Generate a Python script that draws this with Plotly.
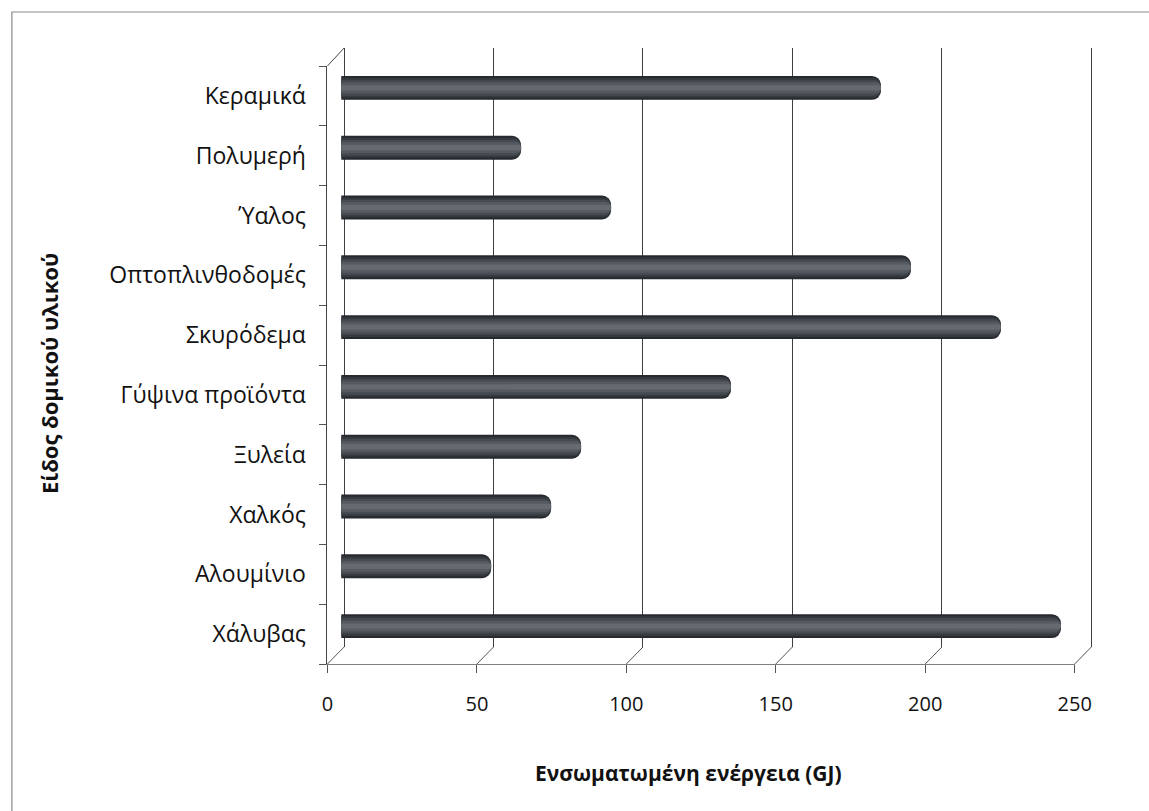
import plotly.graph_objects as go

# Embodied energy per building material (GJ), listed bottom to top
materials = ["Χάλυβας", "Αλουμίνιο", "Χαλκός", "Ξυλεία", "Γύψινα προϊόντα",
             "Σκυρόδεμα", "Οπτοπλινθοδομές", "Ύαλος", "Πολυμερή", "Κεραμικά"]
energy_gj = [240, 50, 70, 80, 130, 220, 190, 90, 60, 180]
value_ticks = [0, 50, 100, 150, 200, 250]
value_tick_text = ["0", "50", "100", "150", "200", "250"]

W, H = 1149, 811
FONT = "Open Sans"


def fx(px):
    return px / W


def fy(py):
    return 1 - py / H


# pseudo-3D geometry (pixels): front floor plane, bar plane, back wall
FRONT_X0, BACK_X0, BAR_X0 = 328, 345, 342
PX_PER_UNIT = 3.05
BAR_PX_PER_UNIT = 3.06
FRONT_TOP, FRONT_BOTTOM = 66, 664
BACK_TOP, BACK_BOTTOM = 48, 647
BAR_TOP, BAR_BOTTOM = 58, 656
VMAX = 250
PAD = 1  # small range padding so the edge gridlines are drawn

fig = go.Figure()

# back wall subplot (gridlines only)
fig.add_trace(go.Scatter(x=[0], y=[0], mode="markers", marker=dict(opacity=0),
                         hoverinfo="skip", showlegend=False, xaxis="x", yaxis="y"))

# cylinder-like bars: dark body shading to a lighter core
for width, color, radius in [(0.40, "#26292e", 9), (0.33, "#363a40", 8),
                             (0.26, "#464a51", 7), (0.18, "#555960", 5),
                             (0.09, "#656970", 3)]:
    fig.add_trace(go.Bar(
        x=energy_gj, y=materials, orientation="h", width=width,
        marker=dict(color=color, line=dict(width=0), cornerradius=radius),
        hoverinfo="x+y", showlegend=False, xaxis="x2", yaxis="y2",
    ))

# front axes carry the category and value labels
fig.add_trace(go.Scatter(x=energy_gj, y=materials, mode="markers", marker=dict(opacity=0),
                         hoverinfo="skip", showlegend=False, xaxis="x3", yaxis="y3"))

shapes = []
# floor depth strokes joining the front ticks to the back wall gridlines
for v in value_ticks:
    shapes.append(dict(type="line", xref="paper", yref="paper",
                       x0=fx(FRONT_X0 + v * PX_PER_UNIT), y0=fy(FRONT_BOTTOM),
                       x1=fx(BACK_X0 + v * PX_PER_UNIT), y1=fy(BACK_BOTTOM),
                       line=dict(color="#555555", width=1)))
# top edge of the side wall
shapes.append(dict(type="line", xref="paper", yref="paper",
                   x0=fx(FRONT_X0), y0=fy(FRONT_TOP), x1=fx(BACK_X0), y1=fy(BACK_TOP),
                   line=dict(color="#444444", width=1)))
# chart-area border
shapes.append(dict(type="rect", xref="paper", yref="paper",
                   x0=fx(6), y0=-0.05, x1=1.05, y1=fy(12),
                   line=dict(color="#8a8a8a", width=1.2), fillcolor="rgba(0,0,0,0)"))

fig.update_layout(
    width=W, height=H, autosize=False,
    margin=dict(l=0, r=0, t=0, b=0),
    paper_bgcolor="white", plot_bgcolor="rgba(0,0,0,0)",
    barmode="overlay",
    font=dict(family=FONT, color="#111111", size=20),
    xaxis=dict(domain=[fx(BACK_X0 - PAD * PX_PER_UNIT),
                       fx(BACK_X0 + (VMAX + PAD) * PX_PER_UNIT)],
               range=[-PAD, VMAX + PAD],
               anchor="y", tickmode="array", tickvals=value_ticks, showgrid=True,
               gridcolor="#3f3f3f", gridwidth=1, showticklabels=False, ticks="",
               zeroline=False, showline=False, fixedrange=True),
    yaxis=dict(domain=[fy(BACK_BOTTOM), fy(BACK_TOP)], range=[0, 1], anchor="x",
               visible=False, fixedrange=True),
    xaxis2=dict(domain=[fx(BAR_X0), fx(BAR_X0 + VMAX * BAR_PX_PER_UNIT)], range=[0, VMAX],
                anchor="y2", visible=False, fixedrange=True),
    yaxis2=dict(domain=[fy(BAR_BOTTOM), fy(BAR_TOP)], type="category",
                categoryorder="array", categoryarray=materials, range=[-0.5, 9.5],
                anchor="x2", visible=False, fixedrange=True),
    xaxis3=dict(domain=[fx(FRONT_X0), fx(FRONT_X0 + VMAX * PX_PER_UNIT)], range=[0, VMAX],
                anchor="y3", tickmode="array", tickvals=value_ticks, ticktext=value_tick_text,
                ticks="outside", ticklen=8, tickcolor="#555555", showline=True,
                linecolor="#808080", linewidth=1, showgrid=False, zeroline=False,
                tickfont=dict(size=20, family=FONT, color="#111111"),
                ticklabelstandoff=14, fixedrange=True),
    yaxis3=dict(domain=[fy(FRONT_BOTTOM), fy(FRONT_TOP)], type="category",
                categoryorder="array", categoryarray=materials, range=[-0.5, 9.5],
                anchor="x3", tickson="boundaries", ticks="outside", ticklen=7,
                tickcolor="#555555", showline=True, linecolor="#444444", linewidth=1,
                showgrid=False, zeroline=False,
                tickfont=dict(size=23, family=FONT, color="#111111"),
                ticklabelstandoff=16, fixedrange=True),
    shapes=shapes,
    annotations=[
        dict(text="<b>Ενσωματωμένη ενέργεια (GJ)</b>", xref="paper", yref="paper",
             x=fx(696), y=fy(773), showarrow=False, xanchor="center", yanchor="middle",
             font=dict(size=21, family=FONT, color="#111111")),
        dict(text="<b>Είδος δομικού υλικού</b>", xref="paper", yref="paper",
             x=fx(44), y=fy(374), showarrow=False, xanchor="center", yanchor="middle",
             textangle=-90, font=dict(size=22, family=FONT, color="#111111")),
    ],
)

fig.write_html("out.html")
